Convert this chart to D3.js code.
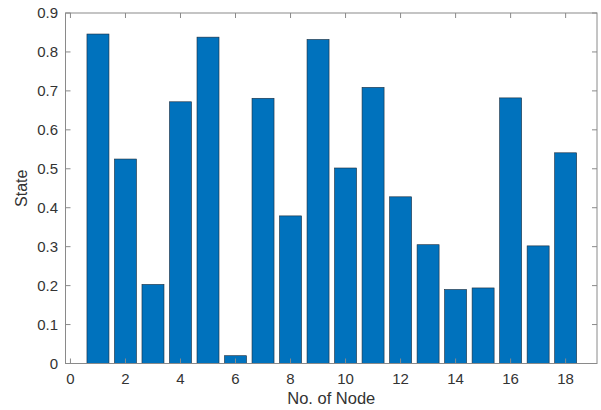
<!DOCTYPE html>
<html><head><meta charset="utf-8">
<script src="https://cdn.jsdelivr.net/npm/d3@7/dist/d3.min.js"></script>
<style>body{margin:0;background:#fff}svg{display:block}text{font-family:"Liberation Sans",Arial,sans-serif}</style>
</head><body><svg id="c" width="601" height="410"></svg>
<script>
const nodes = [1,2,3,4,5,6,7,8,9,10,11,12,13,14,15,16,17,18];
const states = [0.846,0.525,0.203,0.672,0.838,0.020,0.681,0.379,0.832,0.502,0.709,0.428,0.305,0.190,0.194,0.682,0.302,0.541];
const xTicks = [0,2,4,6,8,10,12,14,16,18];
const yTicks = [0,0.1,0.2,0.3,0.4,0.5,0.6,0.7,0.8,0.9];
const xLabel = "No. of Node", yLabel = "State";

const svg = d3.select("#c");
const L = 65.5, R = 597, T = 13, B = 363.5;
const x = d3.scaleLinear().domain([-0.18, 19.14]).range([L, R]);
const y = d3.scaleLinear().domain([0, 0.9]).range([B, T]);
const axisCol = "#333333";
const bw = 0.8 * (x(1) - x(0));

svg.append("g").selectAll("rect").data(nodes).join("rect")
  .attr("x", d => x(d) - bw/2).attr("width", bw)
  .attr("y", (d,i) => y(states[i])).attr("height", (d,i) => y(0) - y(states[i]))
  .attr("fill", "#0072BD").attr("stroke", "#1a2a3a").attr("stroke-width", 0.6);

const tl = 5;
const g = svg.append("g").attr("stroke", "#8a8a8a").attr("stroke-width", 1).attr("fill", "none");
g.append("rect").attr("x", L).attr("y", T).attr("width", R - L).attr("height", B - T);
xTicks.forEach(t => {
  g.append("line").attr("x1", x(t)).attr("x2", x(t)).attr("y1", B).attr("y2", B - tl);
  g.append("line").attr("x1", x(t)).attr("x2", x(t)).attr("y1", T).attr("y2", T + tl);
});
yTicks.forEach(t => {
  g.append("line").attr("x1", L).attr("x2", L + tl).attr("y1", y(t)).attr("y2", y(t));
  g.append("line").attr("x1", R).attr("x2", R - tl).attr("y1", y(t)).attr("y2", y(t));
});

svg.append("g").selectAll("text").data(xTicks).join("text")
  .attr("x", d => x(d)).attr("y", 384).attr("text-anchor", "middle")
  .attr("font-size", 15).attr("fill", axisCol).text(d => d);
svg.append("g").selectAll("text").data(yTicks).join("text")
  .attr("x", 58).attr("y", d => y(d) + 5).attr("text-anchor", "end")
  .attr("font-size", 15).attr("fill", axisCol).text(d => d);

svg.append("text").attr("x", (L + R) / 2).attr("y", 404).attr("text-anchor", "middle")
  .attr("font-size", 16.5).attr("fill", axisCol).text(xLabel);
svg.append("text").attr("transform", `translate(27,${(T + B) / 2}) rotate(-90)`)
  .attr("text-anchor", "middle").attr("font-size", 16).attr("fill", axisCol).text(yLabel);
</script></body></html>
